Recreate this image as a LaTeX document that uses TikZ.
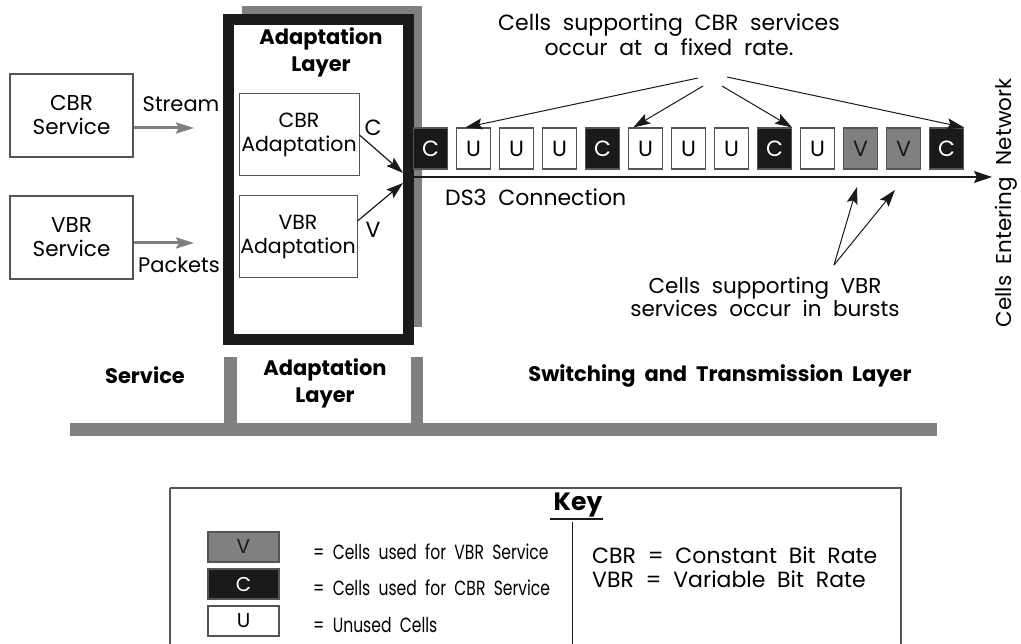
\documentclass[tikz,border=0pt]{standalone}
\usepackage{fontspec}
\setmainfont{Poppins}
\usetikzlibrary{arrows.meta,calc}
\definecolor{dgray}{HTML}{808080}
\definecolor{ink}{HTML}{1A1A1A}
\definecolor{edge}{HTML}{555555}
\newcommand{\narrowtext}[1]{\scalebox{0.76}[1]{#1}}
\begin{document}
\begin{tikzpicture}[x=1pt,y=-1pt,
  lbl/.style={font=\fontsize{22}{24}\selectfont, inner sep=0pt, align=center},
  blbl/.style={font=\fontsize{21}{27}\selectfont\bfseries, inner sep=0pt, align=center},
  keytxt/.style={font=\fontsize{20.5}{22}\selectfont, inner sep=0pt, anchor=west},
  svcbox/.style={draw=edge, line width=1.2pt, fill=white, minimum width=123pt, minimum height=83pt, inner sep=0pt, align=center, font=\fontsize{21.5}{24}\selectfont},
  cellbase/.style={draw=edge, line width=1.1pt, minimum width=34pt, minimum height=41pt, inner sep=0pt, font=\fontsize{22}{22}\selectfont},
  cellC/.style={cellbase, fill=ink, text=white},
  cellU/.style={cellbase, fill=white, text=black},
  cellV/.style={cellbase, fill=dgray, text=ink},
  kcell/.style={draw=edge, line width=1.1pt, minimum width=71pt, minimum height=30pt, inner sep=0pt, font=\fontsize{20}{20}\selectfont},
  garrow/.style={draw=dgray, line width=3pt, -{Stealth[length=18pt,width=11pt,inset=3pt]}},
  barrow/.style={draw=ink, line width=1.2pt, -{Stealth[length=17pt,width=11pt,inset=3pt]}},
  bar/.style={fill=dgray, draw=none}
]
\clip (0,0) rectangle (1021,644);
\fill[white] (0,0) rectangle (1021,644);

% service boxes
\node[svcbox] (cbrsvc) at (71.5,115.5) {CBR\\Service};
\node[svcbox] (vbrsvc) at (71.5,237.5) {VBR\\Service};
\coordinate (streamend) at (194,128);
\coordinate (packend) at (194,243);
\draw[garrow] (cbrsvc.east |- streamend) -- (streamend);
\draw[garrow] (vbrsvc.east |- packend) -- (packend);
\node[lbl, font=\fontsize{21}{24}\selectfont] (stream) at (181,104) {Stream};
\node[lbl, font=\fontsize{21}{24}\selectfont] (packets) at (179,265) {Packets};

% adaptation layer frame with shadow
\fill[dgray] (242,6) rectangle (422,327);
\node[draw=ink, line width=11pt, fill=white, minimum width=179.5pt, minimum height=320pt, inner sep=0pt] (frame) at (318.25,179.5) {};
\node[blbl] (adtitle) at (321,52) {Adaptation\\Layer};
\node[svcbox, line width=1pt, minimum width=120pt, minimum height=82pt, font=\fontsize{20.5}{24}\selectfont] (cbrad) at (299,135) {CBR\\Adaptation};
\node[svcbox, line width=1pt, minimum width=118pt, minimum height=82pt, font=\fontsize{20.5}{24}\selectfont] (vbrad) at (298,237) {VBR\\Adaptation};
\node[lbl] (clab) at (373,128) {C};
\node[lbl] (vlab) at (373,230) {V};

% cells
\node[cellC] (c0) at (430.5,148.5) {C};
\node[cellU] (c1) at (473.5,148.5) {U};
\node[cellU] (c2) at (516.5,148.5) {U};
\node[cellU] (c3) at (559.5,148.5) {U};
\node[cellC] (c4) at (602.5,148.5) {C};
\node[cellU] (c5) at (645.5,148.5) {U};
\node[cellU] (c6) at (688.5,148.5) {U};
\node[cellU] (c7) at (731.5,148.5) {U};
\node[cellC] (c8) at (774.5,148.5) {C};
\node[cellU] (c9) at (817.5,148.5) {U};
\node[cellV] (c10) at (860.5,148.5) {V};
\node[cellV] (c11) at (903.5,148.5) {V};
\node[cellC] (c12) at (946.5,148.5) {C};

% arrows into the DS3 line
\coordinate (conv) at (404,177);
\draw[barrow] (cbrad.east) -- ($(conv)+(-1,-4)$);
\draw[barrow] ($(vbrad.east)+(0,-16)$) -- ($(conv)+(-1,6)$);
\coordinate (lineend) at (992,177);
\draw[draw=ink, line width=1.2pt, -{Stealth[length=18pt,width=12pt,inset=3pt]}] (frame.east |- lineend) -- (lineend);
\node[lbl, anchor=west] (ds3) at (445,197) {DS3\ \ Connection};
\node[lbl, rotate=90, font=\fontsize{21.5}{24}\selectfont] (entering) at (1006,203) {Cells\ \ Entering\ \ Network};

% CBR note
\node[lbl, font=\fontsize{22}{25}\selectfont] (cbrnote) at (669,34.5) {Cells\ \ supporting\ \ CBR\ \ services\\occur\ \ at\ \ a\ \ fixed\ \ rate.};
\coordinate (s1) at (698,78);
\coordinate (s2) at (703,86);
\coordinate (s3) at (722,86);
\coordinate (s4) at (727,77);
\draw[barrow, line width=1pt] (s1) -- ($(c1.north west)!0.27!(c1.north east)$);
\draw[barrow, line width=1pt] (s2) -- ($(c5.north west)!0.15!(c5.north east)$);
\draw[barrow, line width=1pt] (s3) -- (c8.north east);
\draw[barrow, line width=1pt] (s4) -- (c12.north east);

% VBR note
\node[lbl, font=\fontsize{21.5}{23}\selectfont] (vbrnote) at (765,296.5) {Cells\ \ supporting\ \ VBR\\services\ \ occur\ \ in\ \ bursts};
\coordinate (v0) at (834,265);
\coordinate (v1) at (857,187);
\coordinate (v2) at (895,190);
\draw[barrow, line width=1pt] (v0) -- (v1);
\draw[barrow, line width=1pt] (v0) -- (v2);

% layer labels and bars
\node[blbl] (svclayer) at (145,375) {Service};
\node[blbl] (adlayer) at (325,383.5) {Adaptation\\Layer};
\node[blbl] (swlayer) at (720,376) {Switching\ \ and\ \ Transmission\ \ Layer};
\fill[bar] (224,357) rectangle (237,430);
\fill[bar] (411,357) rectangle (423,430);
\fill[bar] (70,423) rectangle (937,436);

% key
\draw[edge, line width=1.2pt] (170,488) -- (901,488) -- (901,660) (170,488) -- (170,660);
\node[blbl, font=\fontsize{25}{26}\selectfont\bfseries] (key) at (578,505) {Key};
\draw[ink, line width=1.5pt] (550,519) -- (603,519);
\draw[ink, line width=1pt] (572,522) -- (572,660);
\node[kcell, fill=dgray, text=ink] (kv) at (243.5,547) {V};
\node[kcell, fill=ink, text=white] (kc) at (243.5,584) {C};
\node[kcell, fill=white] (ku) at (243.5,621) {U};
\node[keytxt] (kvt) at (313,552) {\narrowtext{=\ \ Cells\ \ used\ \ for\ \ VBR\ \ Service}};
\node[keytxt] (kct) at (313,588) {\narrowtext{=\ \ Cells\ \ used\ \ for\ \ CBR\ \ Service}};
\node[keytxt] (kut) at (313,625) {\narrowtext{=\ \ Unused\ \ Cells}};
\node[keytxt, font=\fontsize{22}{22}\selectfont] (cbrdef) at (592,555) {CBR\ \ =\ \ Constant\ \ Bit\ \ Rate};
\node[keytxt, font=\fontsize{22}{22}\selectfont] (vbrdef) at (592,579) {VBR\ \ =\ \ Variable\ \ Bit\ \ Rate};
\end{tikzpicture}
\end{document}
